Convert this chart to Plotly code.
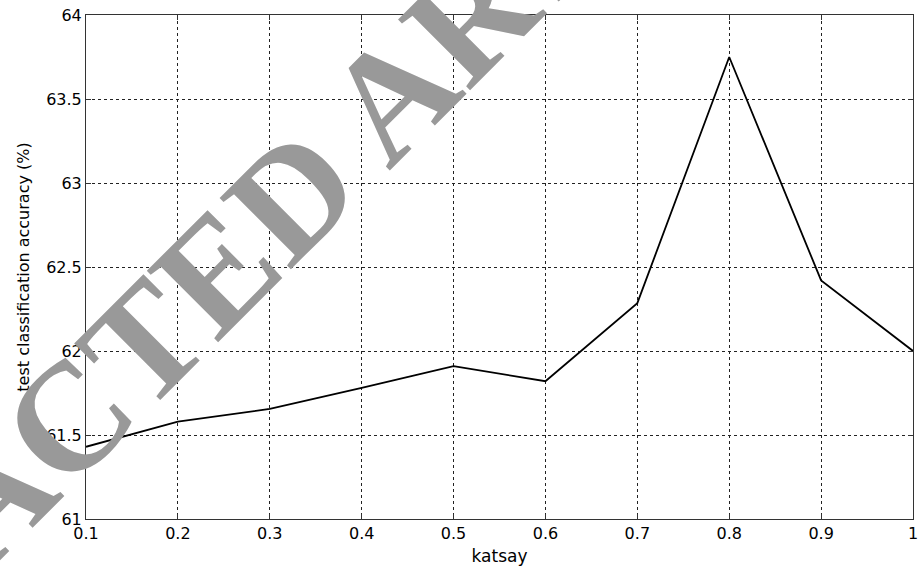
import plotly.graph_objects as go

katsay = [0.1, 0.2, 0.3, 0.4, 0.5, 0.6, 0.7, 0.8, 0.9, 1.0]
accuracy = [61.43, 61.58, 61.655, 61.78, 61.91, 61.82, 62.285, 63.75, 62.42, 62.0]

x_ticks = [0.1, 0.2, 0.3, 0.4, 0.5, 0.6, 0.7, 0.8, 0.9, 1.0]
x_tick_labels = ["0.1", "0.2", "0.3", "0.4", "0.5", "0.6", "0.7", "0.8", "0.9", "1"]
y_ticks = [61, 61.5, 62, 62.5, 63, 63.5, 64]
y_tick_labels = ["61", "61.5", "62", "62.5", "63", "63.5", "64"]

watermark = "RETRACTED ARTICLE"

FONT = "DejaVu Sans, Arial"

fig = go.Figure()
fig.add_trace(go.Scatter(x=katsay, y=accuracy, mode="lines",
                         line=dict(color="black", width=1.8), showlegend=False))

axis_common = dict(
    showline=True, linecolor="#333333", linewidth=1, mirror="ticks",
    ticks="inside", ticklen=5, tickcolor="#333333", tickwidth=1,
    showgrid=True, gridcolor="#222222", gridwidth=1, griddash="3px,3px",
    zeroline=False, tickfont=dict(family=FONT, size=16, color="black"),
    ticklabeloverflow="allow",
)

fig.update_xaxes(range=[0.1, 1.0], tickvals=x_ticks, ticktext=x_tick_labels,
                 title=dict(text="katsay", font=dict(family=FONT, size=17, color="black"), standoff=7),
                 **axis_common)
fig.update_yaxes(range=[61, 64], tickvals=y_ticks, ticktext=y_tick_labels,
                 title=dict(text="test classification accuracy (%)", font=dict(family=FONT, size=16, color="black"), standoff=12),
                 **axis_common)

fig.add_annotation(text="<b>" + watermark + "</b>", xref="paper", yref="paper", x=0.193, y=0.552,
                   xanchor="center", yanchor="middle", textangle=-45, showarrow=False,
                   font=dict(family="Liberation Serif, Times New Roman, serif", size=154, color="#999999"))

fig.update_layout(width=923, height=568, margin=dict(l=86, r=5, t=15, b=49),
                  plot_bgcolor="white", paper_bgcolor="white")

fig.write_html("out.html")
